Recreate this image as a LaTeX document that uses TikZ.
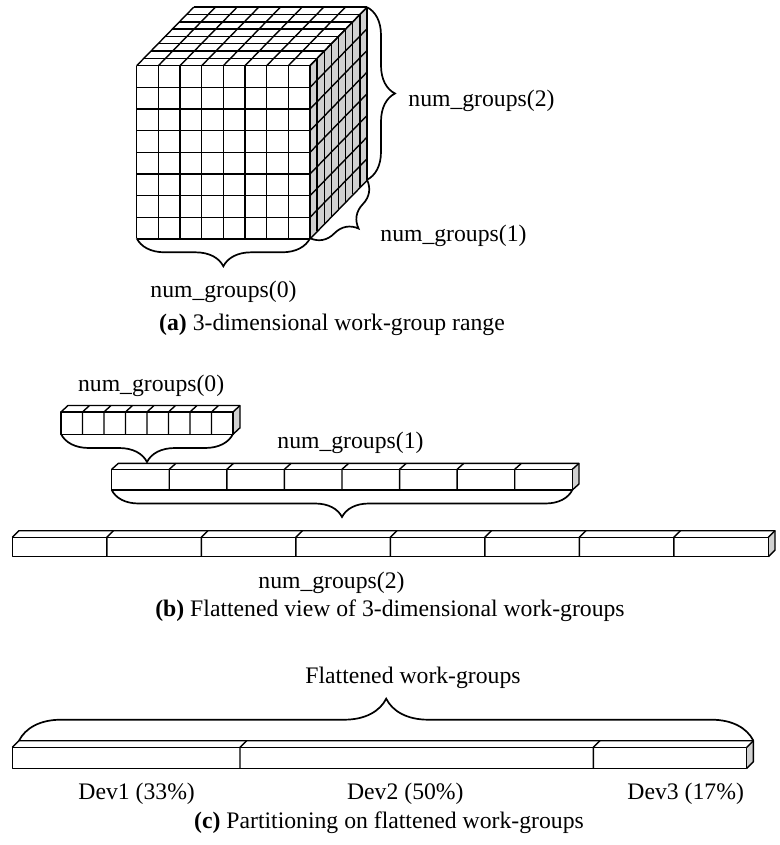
\documentclass[tikz,border=0pt]{standalone}
\usepackage{fontspec}
\setmainfont{Liberation Serif}
\usetikzlibrary{decorations.pathreplacing,calc}
\tikzset{
  cellline/.style={line width=0.7pt, line join=round},
  sideface/.style={fill=black!18},
  wgbrace/.style={decorate, decoration={brace, amplitude=#1}, line width=0.85pt},
  wgbrace/.default=14pt,
  lbl/.style={inner sep=0pt, font=\fontsize{11.85pt}{14pt}\selectfont},
}
% #1 x0, #2 ytop, #3 cell width, #4 height, #5 n, #6 dx, #7 dy
\newcommand{\wgrow}[7]{%
  \pgfmathsetmacro\wgxe{#1+#5*#3}%
  \fill[sideface] (\wgxe,#2) -- ++(#6,#7) -- ++(0,#4) -- ++({-1*(#6)},{-1*(#7)}) -- cycle;
  \draw[cellline] (#1,#2) rectangle (\wgxe,{#2+#4});
  \draw[cellline] (#1,#2) -- ++(#6,#7) -- ({\wgxe+#6},{#2+#7}) -- ++(0,#4) -- (\wgxe,{#2+#4});
  \draw[cellline] (\wgxe,#2) -- ++(#6,#7);
  \foreach \k in {1,...,7} \draw[cellline] ({#1+\k*#3},{#2+#4}) -- ({#1+\k*#3},#2) -- ++(#6,#7);
}
\begin{document}
\begin{tikzpicture}[x=0.5pt,y=-0.5pt]
\useasboundingbox (0,0) rectangle (780,845);
% ---------- (a) cube ----------
\def\cc{21.6625}
\def\cdx{7.125}
\def\cdy{-7.3125}
\fill[sideface] (310,65.7) -- (367,7.2) -- (367,179.8) -- (310,238.3) -- cycle;
\foreach \i in {0,...,8} \draw[cellline] ({136.7+\i*\cc},65.7) -- ({136.7+\i*\cc},238.3);
\foreach \i in {0,...,8} \draw[cellline] (136.7,{65.7+\i*\cc}) -- (310,{65.7+\i*\cc});
\foreach \i in {0,...,8} \draw[cellline] ({136.7+\i*\cc},65.7) -- ++(57,-58.5);
\foreach \j in {0,...,8} \draw[cellline] ({136.7+\j*\cdx},{65.7+\j*\cdy}) -- ++(173.3,0);
\foreach \j in {0,...,8} \draw[cellline] ({310+\j*\cdx},{65.7+\j*\cdy}) -- ++(0,172.6);
\foreach \i in {0,...,8} \draw[cellline] (310,{65.7+\i*\cc}) -- ++(57,-58.5);
\coordinate (cbtr) at (367,7.2);
\coordinate (cbbr) at (367,179.8);
\coordinate (cfbr) at (310,238.3);
\coordinate (cfbl) at (136.7,238.3);
\draw[wgbrace] (cbtr) -- (cbbr);
\draw[wgbrace] (cbbr) -- (cfbr);
\draw[wgbrace] (cfbr) -- (cfbl);
\node[lbl, anchor=base west] (ngtwoa) at (408,106.7) {num\_groups(2)};
\node[lbl, anchor=base west] (ngonea) at (380,241.7) {num\_groups(1)};
\node[lbl, anchor=base west] (ngzeroa) at (150,297) {num\_groups(0)};
\node[lbl, anchor=base] (capa) at (332,330) {\textbf{(a)} 3-dimensional work-group range};
% ---------- (b) flattened rows ----------
\wgrow{61}{412}{21.5}{22.3}{8}{7}{-6.5}
\wgrow{111.7}{469.3}{57.575}{20.7}{8}{6.7}{-6}
\wgrow{12.3}{537.3}{94.5}{19.4}{8}{6.7}{-6.6}
\coordinate (raL) at (61,434);
\coordinate (raR) at (233,434);
\coordinate (rbL) at (111.7,490);
\coordinate (rbR) at (572.3,490);
\draw[wgbrace] (raR) -- (raL);
\draw[wgbrace=13.5pt] (rbR) -- (rbL);
\node[lbl, anchor=base west] (ngzerob) at (77.7,391.7) {num\_groups(0)};
\node[lbl, anchor=base west] (ngoneb) at (277,448.3) {num\_groups(1)};
\node[lbl, anchor=base west] (ngtwob) at (258,588.3) {num\_groups(2)};
\node[lbl, anchor=base] (capb) at (390,616.7) {\textbf{(b)} Flattened view of 3-dimensional work-groups};
% ---------- (c) partition bar ----------
\fill[sideface] (746.7,747.3) -- ++(6.7,-6.6) -- ++(0,21) -- ++(-6.7,6.6) -- cycle;
\draw[cellline] (12.3,747.3) rectangle (746.7,768.3);
\draw[cellline] (12.3,747.3) -- ++(6.7,-6.6) -- (753.4,740.7) -- ++(0,21) -- (746.7,768.3);
\draw[cellline] (746.7,747.3) -- ++(6.7,-6.6);
\draw[cellline] (240,768.3) -- (240,747.3) -- ++(6.7,-6.6);
\draw[cellline] (593.3,768.3) -- (593.3,747.3) -- ++(6.7,-6.6);
\coordinate (bcL) at (19,740.7);
\coordinate (bcR) at (753.4,740.7);
\draw[wgbrace=21pt] (bcL) -- (bcR);
\node[lbl, anchor=base west] (flat) at (305,683.3) {Flattened work-groups};
\node[lbl, anchor=base west] (devone) at (78,799.3) {Dev1 (33\%)};
\node[lbl, anchor=base west] (devtwo) at (346.7,799.3) {Dev2 (50\%)};
\node[lbl, anchor=base west] (devthree) at (627,799.3) {Dev3 (17\%)};
\node[lbl, anchor=base] (capc) at (389,828) {\textbf{(c)} Partitioning on flattened work-groups};
\end{tikzpicture}
\end{document}
